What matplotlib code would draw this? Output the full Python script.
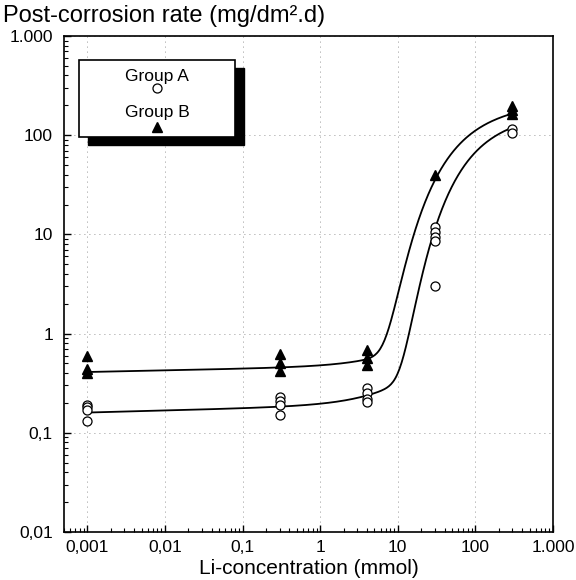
import numpy as np
import matplotlib
matplotlib.use('agg')
import matplotlib.pyplot as plt
from matplotlib.patches import Rectangle
from matplotlib.ticker import FixedLocator, FixedFormatter, LogLocator, NullFormatter

plt.rcParams['font.family'] = ['Liberation Sans', 'DejaVu Sans']

conc_a = [0.001] * 4 + [0.3] * 4 + [4] * 4 + [30] * 5 + [300] * 2
rate_a = [0.19, 0.18, 0.17, 0.13,
          0.23, 0.21, 0.19, 0.15,
          0.28, 0.25, 0.22, 0.205,
          12, 10.5, 9.5, 8.5, 3,
          115, 105]
conc_b = [0.001] * 3 + [0.3] * 3 + [4] * 3 + [30] + [300] * 3
rate_b = [0.6, 0.44, 0.4,
          0.62, 0.5, 0.42,
          0.68, 0.57, 0.48,
          40,
          195, 180, 165]

# fitted curve parameters: base c0*(x/0.001)^p + c1*x, plus a Gompertz step in log space
fit_a = dict(c0=0.16, p=0.0206, c1=0.012, H=2.2, a=3.334, b=2.15)
fit_b = dict(c0=0.41, p=0.0163, c1=0.02, H=2.3, a=2.765, b=2.05)

xticks = [0.001, 0.01, 0.1, 1, 10, 100, 1000]
xlabels = ['0,001', '0,01', '0,1', '1', '10', '100', '1.000']
yticks = [0.01, 0.1, 1, 10, 100, 1000]
ylabels = ['0,01', '0,1', '1', '10', '100', '1.000']


def fit_curve(x, c0, p, c1, H, a, b):
    return c0 * (x / 0.001) ** p + c1 * x + 10 ** (H - np.exp(a - b * np.log10(x)))


fig = plt.figure(figsize=(5.76, 5.8), dpi=100)
ax = fig.add_axes([64 / 576, 1 - 532 / 580, 489 / 576, 496 / 580])
ax.set_xscale('log')
ax.set_yscale('log')
ax.set_xlim(0.0005, 1000)
ax.set_ylim(0.01, 1000)

xs = np.logspace(-3, np.log10(300), 400)
ax.plot(xs, fit_curve(xs, **fit_a), color='black', lw=1.3, zorder=3)
ax.plot(xs, fit_curve(xs, **fit_b), color='black', lw=1.3, zorder=3)

ax.plot(conc_a, rate_a, 'o', ms=6.5, mfc='white', mec='black', mew=0.9, zorder=4)
ax.plot(conc_b, rate_b, '^', ms=7, color='black', zorder=4)

ax.xaxis.set_major_locator(FixedLocator(xticks))
ax.xaxis.set_major_formatter(FixedFormatter(xlabels))
ax.yaxis.set_major_locator(FixedLocator(yticks))
ax.yaxis.set_major_formatter(FixedFormatter(ylabels))
ax.xaxis.set_minor_locator(LogLocator(base=10, subs=np.arange(2, 10), numticks=20))
ax.yaxis.set_minor_locator(LogLocator(base=10, subs=np.arange(2, 10), numticks=20))
ax.xaxis.set_minor_formatter(NullFormatter())
ax.yaxis.set_minor_formatter(NullFormatter())

ax.tick_params(which='both', direction='in', top=False, right=False, labelsize=12.5)
ax.tick_params(which='major', length=5, width=1)
ax.tick_params(which='minor', length=3, width=0.8)
ax.tick_params(axis='y', which='major', pad=8)
ax.tick_params(axis='x', which='major', pad=6)
for s in ax.spines.values():
    s.set_linewidth(1.2)

ax.grid(True, which='major', color='0.45', lw=0.6, linestyle=(0, (1, 5)), zorder=0)

ax.set_xlabel('Li-concentration (mmol)', fontsize=15, labelpad=3)
fig.text(3 / 576, 1 - 22 / 580, 'Post-corrosion rate (mg/dm².d)', fontsize=17,
         ha='left', va='baseline')

# legend box with drop shadow
bx0, by0, bw, bh = 0.031, 0.796, 0.319, 0.156
sx, sy = 9 / 489, -8 / 496
ax.add_patch(Rectangle((bx0 + sx, by0 + sy), bw, bh, transform=ax.transAxes,
                       facecolor='black', edgecolor='black', zorder=5))
ax.add_patch(Rectangle((bx0, by0), bw, bh, transform=ax.transAxes,
                       facecolor='white', edgecolor='black', lw=1.2, zorder=6))
lx = bx0 + bw / 2
ax.text(lx, 0.918, 'Group A', transform=ax.transAxes, ha='center', va='center',
        fontsize=12.5, zorder=7)
ax.plot([lx], [0.895], 'o', ms=6.5, mfc='white', mec='black', mew=0.9,
        transform=ax.transAxes, zorder=7)
ax.text(lx, 0.845, 'Group B', transform=ax.transAxes, ha='center', va='center',
        fontsize=12.5, zorder=7)
ax.plot([lx], [0.817], '^', ms=7, color='black', transform=ax.transAxes, zorder=7)

fig.savefig('out.png', dpi=100)
